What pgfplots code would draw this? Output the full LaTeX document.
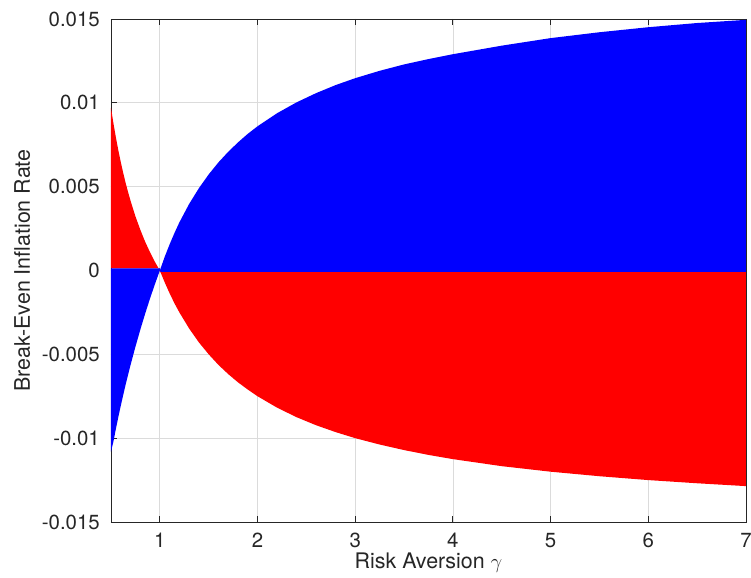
\documentclass[border=0pt]{standalone}
\usepackage{pgfplots}
\pgfplotsset{compat=1.18}
\usepackage{fontspec}
\setmainfont{TeX Gyre Heros}
\definecolor{axgray}{rgb}{0.15,0.15,0.15}
\definecolor{gridgray}{rgb}{0.86,0.86,0.86}
\begin{document}
\begin{tikzpicture}
\path[use as bounding box] (-111bp,-56bp) rectangle (640bp,522bp);
\begin{axis}[
  at={(0,0)}, anchor=south west,
  scale only axis, width=635bp, height=503bp,
  xmin=0.5, xmax=7, ymin=-0.015, ymax=0.015,
  xtick={1,2,3,4,5,6,7},
  xticklabels={1,2,3,4,5,6,7},
  ytick={-0.015,-0.01,-0.005,0,0.005,0.01,0.015},
  yticklabels={-0.015,-0.01,-0.005,0,0.005,0.01,0.015},
  scaled y ticks=false,
  tick pos=both,
  tick align=inside,
  major tick length=6bp,
  grid=major,
  major grid style={gridgray, line width=0.8bp},
  axis line style={axgray, line width=0.9bp},
  tick style={axgray, line width=0.9bp},
  ticklabel style={font=\fontsize{20.5}{24}\selectfont, text=axgray},
  yticklabel style={anchor=east, inner sep=0pt, xshift=-11bp},
  xticklabel style={anchor=north, inner sep=0pt, yshift=-11bp},
  label style={font=\fontsize{21.5}{25}\selectfont, text=axgray},
  xlabel={Risk Aversion $\gamma$},
  ylabel={Break-Even Inflation Rate},
  xlabel style={at={(axis description cs:0.5,-0.0815)}, anchor=center},
  ylabel style={at={(axis description cs:-0.14,0.5)}, anchor=center},
]
% gamma < 1, positive (red)
\addplot[fill=red, draw=none] coordinates {
  (0.5,0.00013) (0.5,0.0097) (0.525,0.00878) (0.55,0.00794) (0.575,0.00717)
  (0.6,0.00647) (0.625,0.00582) (0.65,0.00522) (0.675,0.00467) (0.7,0.00416)
  (0.75,0.00323) (0.8,0.00243) (0.85,0.00171) (0.9,0.00108) (0.95,0.00051)
  (1,0) (1,0.00013)
} -- cycle;
% gamma < 1, negative (blue)
\addplot[fill=blue, draw=none] coordinates {
  (0.5,0.00013) (0.5,-0.0108) (0.525,-0.0102) (0.55,-0.00945) (0.575,-0.00874)
  (0.6,-0.00807) (0.625,-0.00743) (0.65,-0.0068) (0.7,-0.00564) (0.75,-0.00455)
  (0.8,-0.00353) (0.85,-0.00257) (0.9,-0.00166) (0.95,-0.00081)
  (1,0) (1,0.00013)
} -- cycle;
% gamma > 1, positive (blue)
\addplot[fill=blue, draw=none] coordinates {
  (1,-0.0001) (1,0) (1.05,0.00082) (1.1,0.00156) (1.15,0.00224) (1.2,0.00287)
  (1.3,0.00397) (1.4,0.00491) (1.5,0.00573) (1.6,0.00645) (1.7,0.00708)
  (1.8,0.00764) (1.9,0.00815) (2,0.0086) (2.2,0.00938) (2.4,0.01003)
  (2.6,0.01058) (2.8,0.01106) (3,0.01147) (3.25,0.01191) (3.5,0.01229)
  (3.75,0.01261) (4,0.0129) (4.5,0.01341) (5,0.01386) (5.5,0.01421)
  (6,0.01451) (6.5,0.01476) (7,0.01495) (7,-0.0001)
} -- cycle;
% gamma > 1, negative (red)
\addplot[fill=red, draw=none] coordinates {
  (1,-0.0001) (1,0) (1.05,-0.00071) (1.1,-0.00136) (1.15,-0.00196) (1.2,-0.0025)
  (1.3,-0.00346) (1.4,-0.00429) (1.5,-0.005) (1.6,-0.00563) (1.7,-0.00618)
  (1.8,-0.00667) (1.9,-0.0071) (2,-0.0075) (2.2,-0.00818) (2.4,-0.00875)
  (2.6,-0.00923) (2.8,-0.00964) (3,-0.01) (3.25,-0.01038) (3.5,-0.01071)
  (3.75,-0.011) (4,-0.01125) (4.5,-0.01167) (5,-0.012) (5.5,-0.01227)
  (6,-0.0125) (6.5,-0.01269) (7,-0.01286) (7,-0.0001)
} -- cycle;
\end{axis}
\end{tikzpicture}
\end{document}
